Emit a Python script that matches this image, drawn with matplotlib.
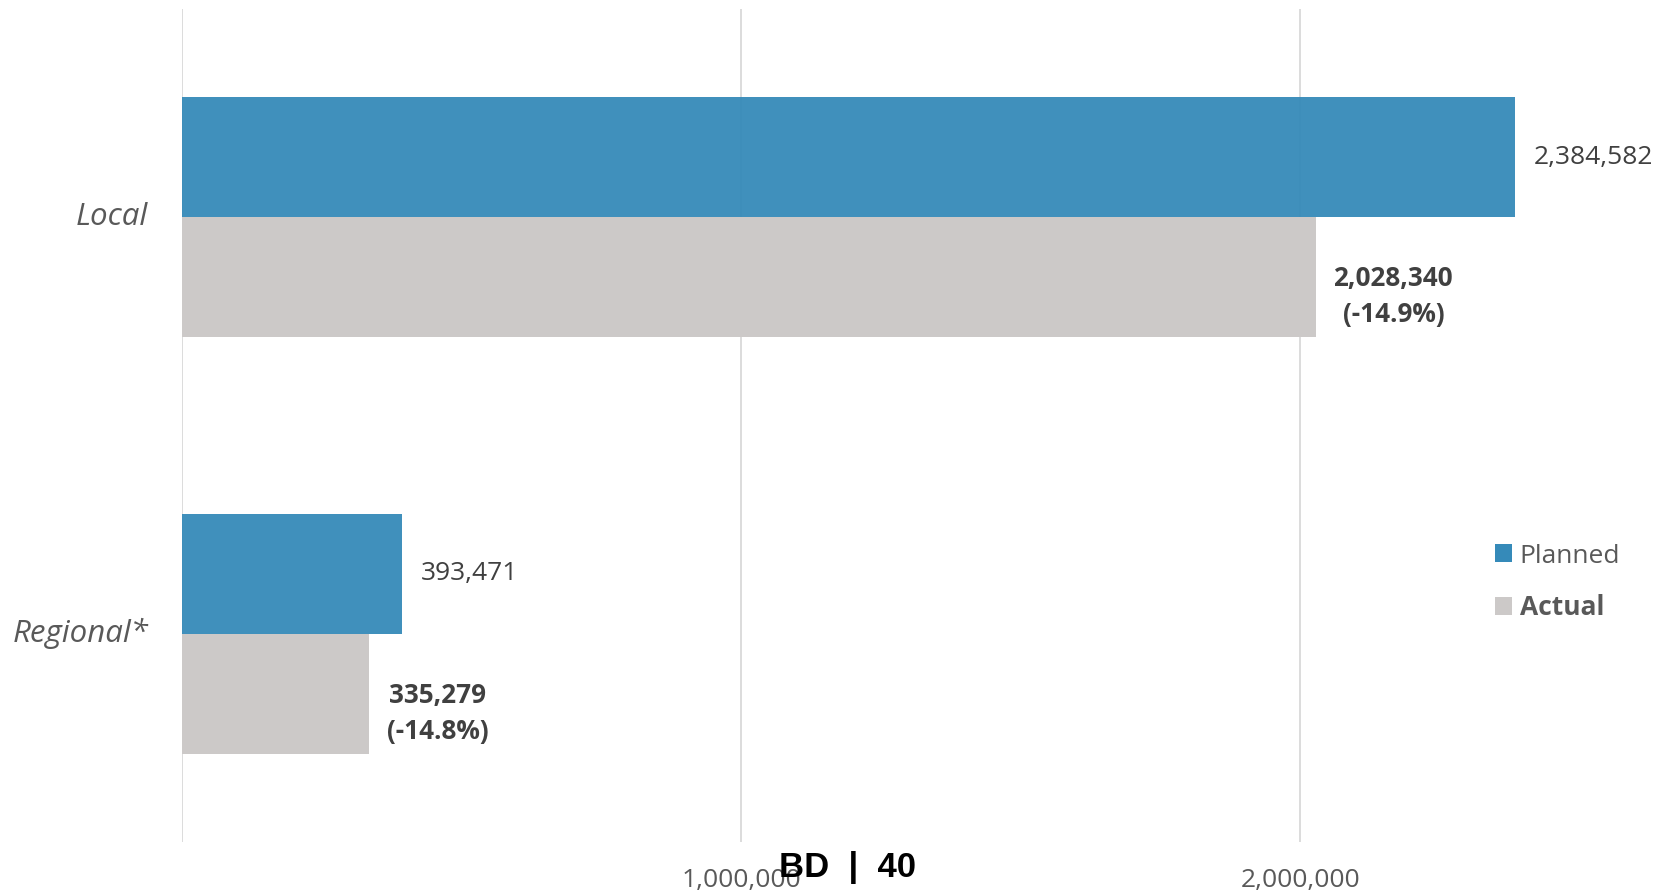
import matplotlib
matplotlib.use("Agg")
import matplotlib.pyplot as plt
from matplotlib.patches import Patch
from matplotlib.transforms import ScaledTranslation

plt.rcParams["font.family"] = ["Open Sans", "DejaVu Sans"]

# Data
categories = ["Local", "Regional*"]
planned = [2384582, 393471]
actual = [2028340, 335279]
pct_change = ["-14.9%", "-14.8%"]
x_ticks = [1000000, 2000000]
x_tick_labels = ["1,000,000", "2,000,000"]
series_names = ["Planned", "Actual"]

BLUE = "#358AB9"   # drawn at alpha 0.95 so gridlines show faintly through
GRAY = "#CCC9C8"
GRID = "#D9D9D9"
TXT = "#595959"
LBL = "#404040"

W, H = 1665, 893
fig = plt.figure(figsize=(W / 100, H / 100), dpi=100)
ax = fig.add_axes([181.7 / W, 51 / H, 2.6 * 559.3 / W, 833 / H])

pos = list(range(len(categories)))
bh = 0.288

# Gridlines (including the zero line) under the bars
for gx in [0] + x_ticks:
    ax.axvline(gx, color=GRID, lw=1.3, zorder=0)

pl_pos = [p - bh / 2 for p in pos]
ac_pos = [p + bh / 2 for p in pos]
ax.barh(pl_pos, planned, height=bh, color=BLUE, alpha=0.95, zorder=1, linewidth=0)
ax.barh(ac_pos, actual, height=bh, color=GRAY, zorder=1, linewidth=0)

ax.set_xlim(0, 2.6e6)
ax.set_ylim(1.5, -0.5)

# Value labels
for y, v in zip(pl_pos, planned):
    ax.annotate(f"{v:,}", xy=(v, y), xytext=(13.5, 0), textcoords="offset points",
                ha="left", va="center", fontsize=19, color=LBL)
for y, v, p in zip(ac_pos, actual, pct_change):
    ax.annotate(f"{v:,}\n({p})", xy=(v, y), xytext=(12.5, -14), textcoords="offset points",
                ha="left", va="center", multialignment="center", fontsize=18.8,
                fontweight="bold", color=LBL, linespacing=1.42)

# Axes styling
for s in ax.spines.values():
    s.set_visible(False)
ax.set_xticks(x_ticks)
ax.set_xticklabels(x_tick_labels)
ax.tick_params(axis="x", length=0, pad=19, labelsize=19, labelcolor=TXT)
ax.set_yticks(pos)
ax.set_yticklabels(categories, fontstyle="italic")
ax.tick_params(axis="y", length=0, pad=24, labelsize=22.5, labelcolor=TXT)
lift = ScaledTranslation(0, 2.5 / 72, fig.dpi_scale_trans)
for t in ax.get_yticklabels():
    t.set_transform(t.get_transform() + lift)

# Legend
handles = [Patch(facecolor=BLUE, edgecolor="none"), Patch(facecolor=GRAY, edgecolor="none")]
leg = fig.legend(handles, series_names, loc="center left",
                 bbox_to_anchor=(1495 / W, 1 - 582.5 / H), bbox_transform=fig.transFigure,
                 frameon=False, fontsize=19, handlelength=0.66, handleheight=0.66,
                 handletextpad=0.28, labelspacing=0.98, borderpad=0, borderaxespad=0)
for t in leg.get_texts():
    t.set_color(TXT)
leg.get_texts()[1].set_fontweight("bold")

# Footer tag
fig.text(848 / W, 1 - 877 / H, "BD  |  40", ha="center", va="baseline",
         fontsize=25, fontweight="bold", color="black",
         family=["Liberation Sans", "DejaVu Sans"])

fig.savefig("out.png", dpi=100)
